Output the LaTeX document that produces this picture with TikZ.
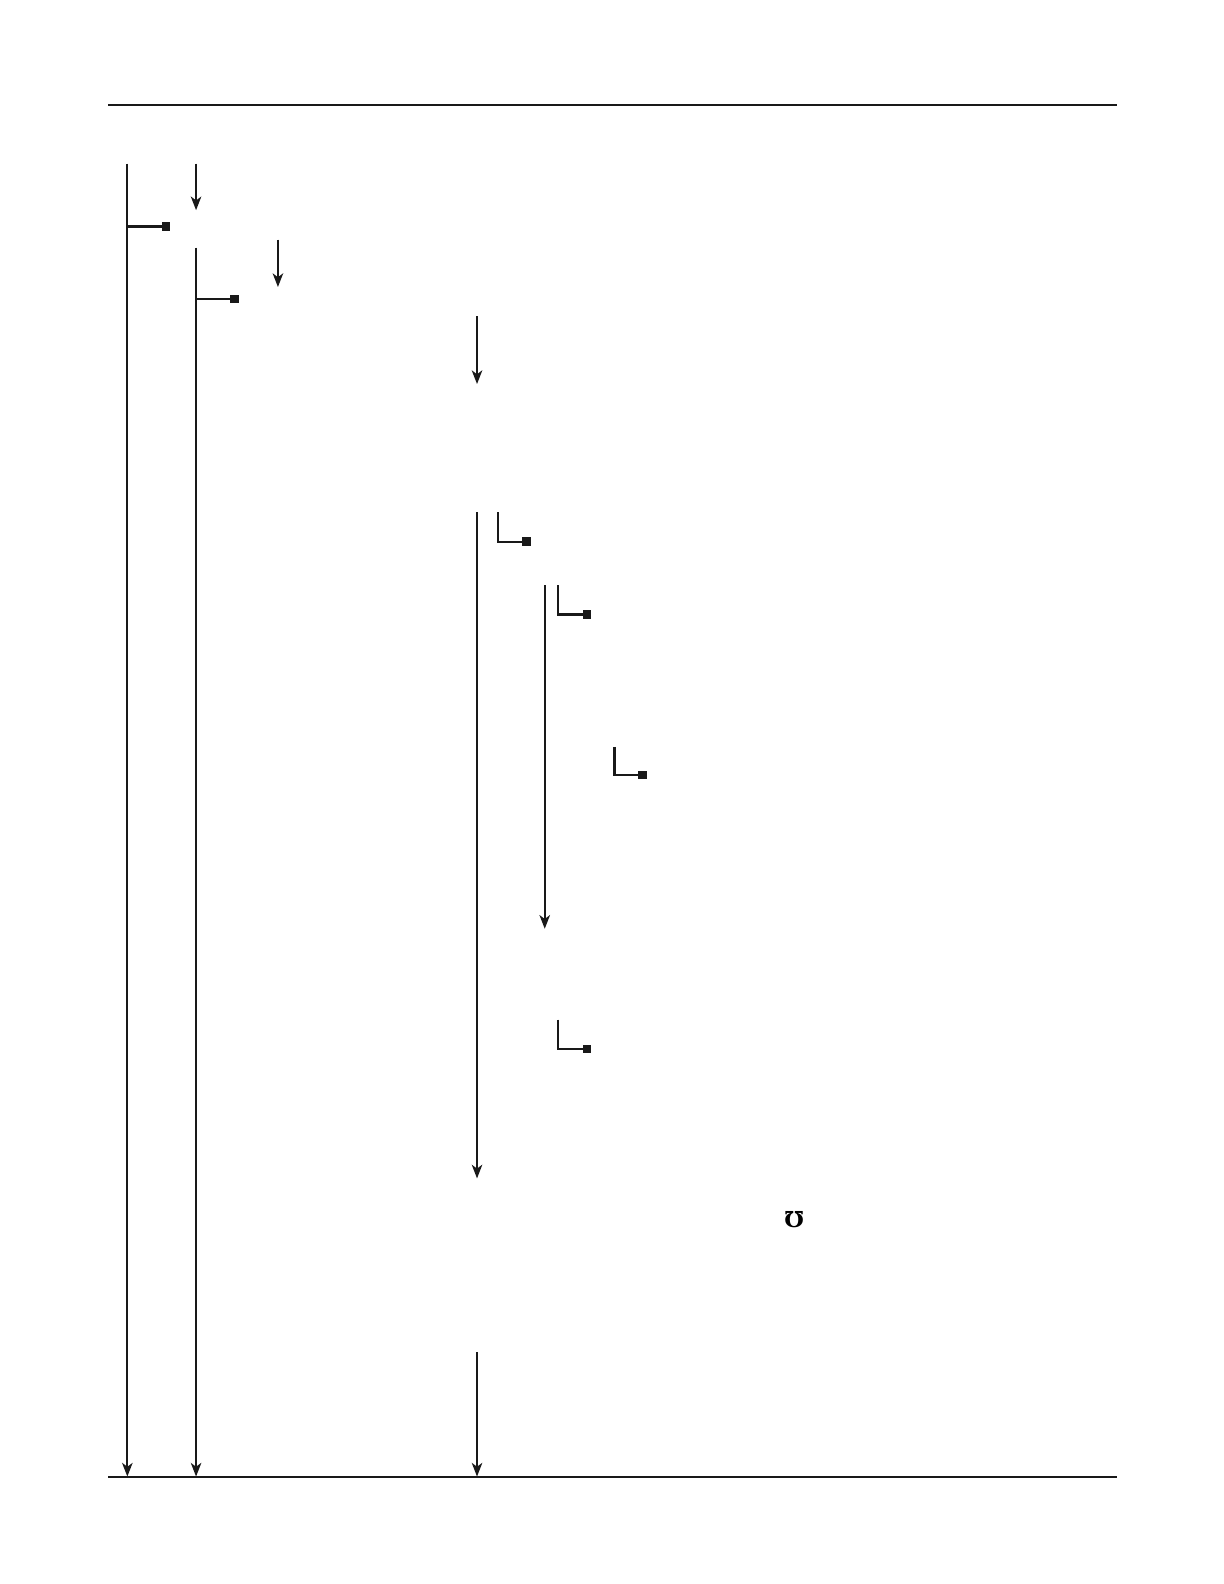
\documentclass[tikz,border=0pt]{standalone}
\usepackage{fontspec}
\newfontfamily\symfont{DejaVu Serif}
\usetikzlibrary{arrows.meta}
\begin{document}
\begin{tikzpicture}[x=0.5pt,y=-0.5pt,
  ln/.style={line width=1.15pt,draw=black!90},
  arr/.style={ln,-{Stealth[length=6.8pt,width=5.2pt,inset=1.9pt]}},
  sq/.style={fill=black!90,minimum size=4.2pt,inner sep=0pt,outer sep=0pt,draw=none}]
\useasboundingbox (0,0) rectangle (1224,1584);
\begin{scope}[scale=1.0104]
% rules
\coordinate (t1) at (107,104); \coordinate (t2) at (1105,104);
\draw[line width=1.1pt,black!90] (t1) -- (t2);
\coordinate (b1) at (107,1461.5); \coordinate (b2) at (1105,1461.5);
\draw[line width=0.8pt,black!90] (b1) -- (b2);
% line A
\coordinate (a0) at (126,162); \coordinate (a1) at (126,1461);
\draw[arr] (a0) -- (a1);
\coordinate (ab) at (126,224); \node[sq] (sa) at (164,224) {};
\draw[ln] (ab) -- (sa.center);
% arrow B
\coordinate (b0) at (194,162); \coordinate (bb) at (194,208);
\draw[arr] (b0) -- (bb);
% line C
\coordinate (c0) at (194,245); \coordinate (c1) at (194,1461);
\draw[arr] (c0) -- (c1);
\coordinate (cb) at (194,296); \node[sq] (sc) at (232,296) {};
\draw[ln] (cb) -- (sc.center);
% arrow D
\coordinate (d0) at (275,237); \coordinate (d1) at (275,284);
\draw[arr] (d0) -- (d1);
% arrow E
\coordinate (e0) at (472,313); \coordinate (e1) at (472,380);
\draw[arr] (e0) -- (e1);
% line F
\coordinate (f0) at (472,507); \coordinate (f1) at (472,1166);
\draw[arr] (f0) -- (f1);
\coordinate (l1) at (493,507); \node[sq] (s1) at (521,536) {};
\draw[ln] (l1) |- (s1.center);
% line G
\coordinate (g0) at (539,579); \coordinate (g1) at (539,919);
\draw[arr] (g0) -- (g1);
\coordinate (l2) at (552,579); \node[sq] (s2) at (581,608) {};
\draw[ln] (l2) |- (s2.center);
\coordinate (l3) at (608,739); \node[sq] (s3) at (636,767) {};
\draw[ln] (l3) |- (s3.center);
\coordinate (l4) at (552,1009); \node[sq] (s4) at (581,1038) {};
\draw[ln] (l4) |- (s4.center);
% symbol
\node[inner sep=0pt,font=\symfont\bfseries\fontsize{11pt}{11pt}\selectfont] (u) at (786,1207) {℧};
% arrow H
\coordinate (h0) at (472,1338); \coordinate (h1) at (472,1461);
\draw[arr] (h0) -- (h1);
\end{scope}
\end{tikzpicture}
\end{document}
